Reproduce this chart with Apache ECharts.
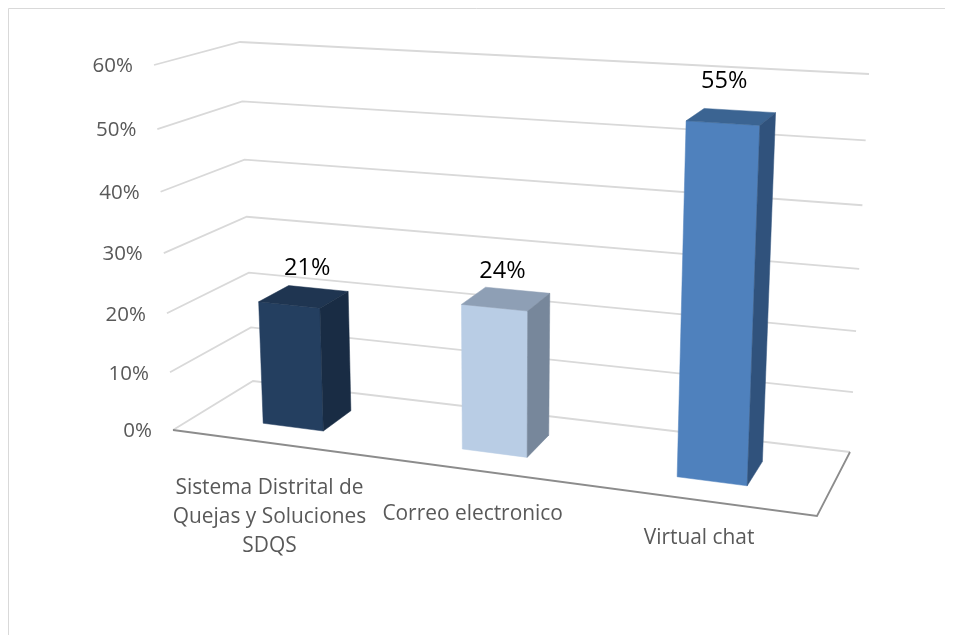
<!DOCTYPE html>
<html><head><meta charset="utf-8">
<style>html,body{margin:0;padding:0;background:#fff}#c{width:956px;height:635px}</style>
<script src="https://cdn.jsdelivr.net/npm/echarts@6/dist/echarts.min.js"></script>
</head><body><div id="c"></div>
<script>
// ---- data ----
const categories = ['Sistema Distrital de\nQuejas y Soluciones\nSDQS', 'Correo electronico', 'Virtual chat'];
const values = [0.21, 0.24, 0.55];
const valueLabels = ['21%', '24%', '55%'];
const tickValues = [0, 0.1, 0.2, 0.3, 0.4, 0.5, 0.6];
const tickLabels = ['0%', '10%', '20%', '30%', '40%', '50%', '60%'];

// ---- styles: [front, top, side] ----
const faceColors = [
  ['#243F60', '#1F3551', '#192C44'],
  ['#B9CDE5', '#8E9FB5', '#77879B'],
  ['#4F81BD', '#3B6492', '#30527C']
];

// ---- 3D box projection: unit cube corners on screen, and perspective foreshortening ----
const F0L=[173,430], F0R=[817,516], B0L=[253,381], B0R=[850,452];
const F1L=[154,65],  F1R=[835,105], B1L=[240,42],  B1R=[869,74];
const persU = 0.892, persV = 0.94;
const barFront = 0.31, barBack = 0.70, barWidthRatio = 0.31;
const GRID = {left:100, top:100, width:600, height:300};
const warp = (t, k) => k * t / (1 + (k - 1) * t);
const mix = (a, b, t) => [a[0] + (b[0] - a[0]) * t, a[1] + (b[1] - a[1]) * t];
function project(u, d, v) {
  const s = warp(u, persU), h = warp(v, persV);
  const bottom = mix(mix(F0L, F0R, s), mix(B0L, B0R, s), d);
  const top = mix(mix(F1L, F1R, s), mix(B1L, B1R, s), d);
  return mix(bottom, top, h);
}
const toU = px => (px - GRID.left) / GRID.width;
const toV = py => (GRID.top + GRID.height - py) / GRID.height;

const GRID_COLOR = '#D9D9D9', FLOOR_COLOR = '#8C8C8C', LABEL_COLOR = '#595959';
const FONT = '"Open Sans", "Noto Sans", sans-serif';

function renderWall(params, api) {
  const val = api.value(1), i = params.dataIndex;
  const v = toV(api.coord([0, val])[1]);
  const kids = [];
  const line = (pts, color, w) => kids.push({type:'polyline', shape:{points:pts}, style:{stroke:color, lineWidth:w, fill:null}});
  line([project(0,0,v), project(0,1,v), project(1,1,v)], GRID_COLOR, 1.8);
  const p = project(0,0,v);
  kids.push({type:'text', style:{text:tickLabels[i], x:p[0]-21, y:p[1]+1.5, align:'right', verticalAlign:'middle',
    fill:LABEL_COLOR, fontSize:20.5, fontFamily:FONT}});
  if (i === 0) {
    line([project(0,0,0), project(1,0,0), project(1,1,0)], FLOOR_COLOR, 1.8);
  }
  return {type:'group', children:kids};
}

const valueNudgeX = [6, -1, 0], valueNudgeY = [0, 2, 1];
function renderBar(params, api) {
  const i = api.value(0), val = api.value(1);
  const c = api.coord([i, 0]), top = api.coord([i, val]);
  const band = api.size([1, 0])[0];
  const half = band * barWidthRatio / 2;
  const uC = toU(c[0]), u0 = toU(c[0] - half), u1 = toU(c[0] + half);
  const v = toV(top[1]);
  const col = faceColors[i];
  const poly = (pts, fill) => ({type:'polygon', shape:{points:pts}, style:{fill:fill, stroke:fill, lineWidth:0.5}});
  const a = project(u0,barFront,0), b = project(u1,barFront,0), e = project(u1,barFront,v), f = project(u0,barFront,v);
  const g = project(u1,barBack,0), h = project(u1,barBack,v), j = project(u0,barBack,v);
  const mid = project(uC,(barFront+barBack)/2,v);
  return {type:'group', children:[
    poly([a,b,e,f], col[0]),
    poly([f,e,h,j], col[1]),
    poly([b,g,h,e], col[2]),
    {type:'text', style:{text:valueLabels[i], x:mid[0]-2.5-4.5*Math.max(0,uC-0.5)*3+valueNudgeX[i], y:mid[1]-23.5-14.5*v+valueNudgeY[i],
      align:'center', verticalAlign:'middle', fill:'#000000', fontSize:23.5, fontFamily:FONT}}
  ]};
}

const labelDrop = [45, 43.5, 38], labelShift = [-1, -4, 0];
function renderCat(params, api) {
  const i = api.value(0);
  const p = project(toU(api.coord([i, 0])[0]), 0, 0);
  return {type:'text', style:{text:categories[i], x:p[0]+labelShift[i], y:p[1]+labelDrop[i]-14.5, align:'center', verticalAlign:'top',
    fill:LABEL_COLOR, fontSize:20.9, lineHeight:29, fontFamily:FONT}};
}

const chart = echarts.init(document.getElementById('c'));
chart.setOption({
  animation:false,
  backgroundColor:'#fff',
  grid:Object.assign({show:false}, GRID),
  xAxis:{type:'category', data:categories, show:false},
  yAxis:{type:'value', min:0, max:0.6, interval:0.1, show:false},
  graphic:[{type:'polyline', shape:{points:[[8.5,635],[8.5,8.5],[945,8.5]]}, style:{stroke:GRID_COLOR, lineWidth:1, fill:null}, silent:true}],
  series:[
    {type:'custom', coordinateSystem:'cartesian2d', silent:true, z:1, renderItem:renderWall, clip:false,
      data:tickValues.map(t => [0, t])},
    {type:'custom', coordinateSystem:'cartesian2d', silent:true, z:2, renderItem:renderBar, clip:false,
      data:values.map((t, i) => [i, t])},
    {type:'custom', coordinateSystem:'cartesian2d', silent:true, z:3, renderItem:renderCat, clip:false,
      data:categories.map((t, i) => [i, 0])}
  ]
});
</script></body></html>
